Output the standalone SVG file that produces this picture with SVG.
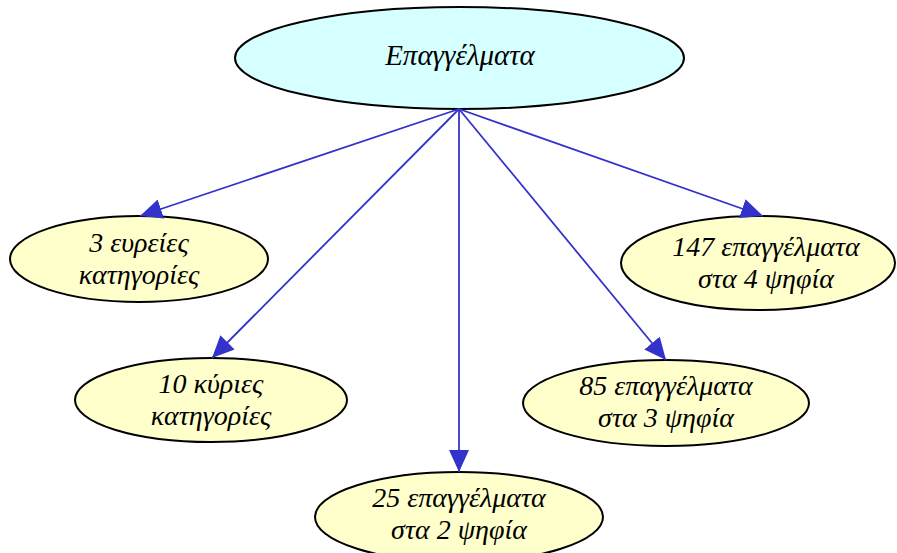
<svg xmlns="http://www.w3.org/2000/svg" width="897" height="553" viewBox="0 0 897 553">
<style>
.n{stroke:#000;stroke-width:2}
.top{fill:#d6ffff}
.leaf{fill:#ffffcc}
text{font-family:'Liberation Serif','Times New Roman',serif;font-style:italic;font-size:28px;fill:#000;text-anchor:middle}
.t{font-size:29px}
.c line{stroke:#3333cc;stroke-width:1.8}
.ah{fill:#3333cc}
</style>
<defs>
<marker id="a" markerWidth="24" markerHeight="20" refX="22" refY="10" orient="auto" markerUnits="userSpaceOnUse">
<path class="ah" d="M0,0 L22,10 L0,20 Z"/>
</marker>
</defs>
<g id="n0"><ellipse class="n top" cx="459.5" cy="58" rx="224.5" ry="51"/><text class="t" x="460" y="65">Επαγγέλματα</text></g>
<g id="n1"><ellipse class="n leaf" cx="139" cy="259" rx="129" ry="43"/><text x="139" y="252">3 ευρείες</text><text x="139" y="284">κατηγορίες</text></g>
<g id="n2"><ellipse class="n leaf" cx="211" cy="400" rx="136" ry="42"/><text x="211" y="393">10 κύριες</text><text x="211" y="425">κατηγορίες</text></g>
<g id="n3"><ellipse class="n leaf" cx="459" cy="517" rx="144" ry="45"/><text x="459" y="507">25 επαγγέλματα</text><text x="459" y="539">στα 2 ψηφία</text></g>
<g id="n4"><ellipse class="n leaf" cx="666" cy="403" rx="143" ry="43"/><text x="666" y="395">85 επαγγέλματα</text><text x="666" y="427">στα 3 ψηφία</text></g>
<g id="n5"><ellipse class="n leaf" cx="758" cy="263" rx="137" ry="47"/><text x="766" y="256">147 επαγγέλματα</text><text x="766" y="288">στα 4 ψηφία</text></g>
<g class="c" id="connectors">
<line x1="459" y1="109" x2="140" y2="216" marker-end="url(#a)"/>
<line x1="459" y1="109" x2="212" y2="358" marker-end="url(#a)"/>
<line x1="459" y1="109" x2="459" y2="472" marker-end="url(#a)"/>
<line x1="459" y1="109" x2="666" y2="360" marker-end="url(#a)"/>
<line x1="459" y1="109" x2="763" y2="216" marker-end="url(#a)"/>
</g>
</svg>
